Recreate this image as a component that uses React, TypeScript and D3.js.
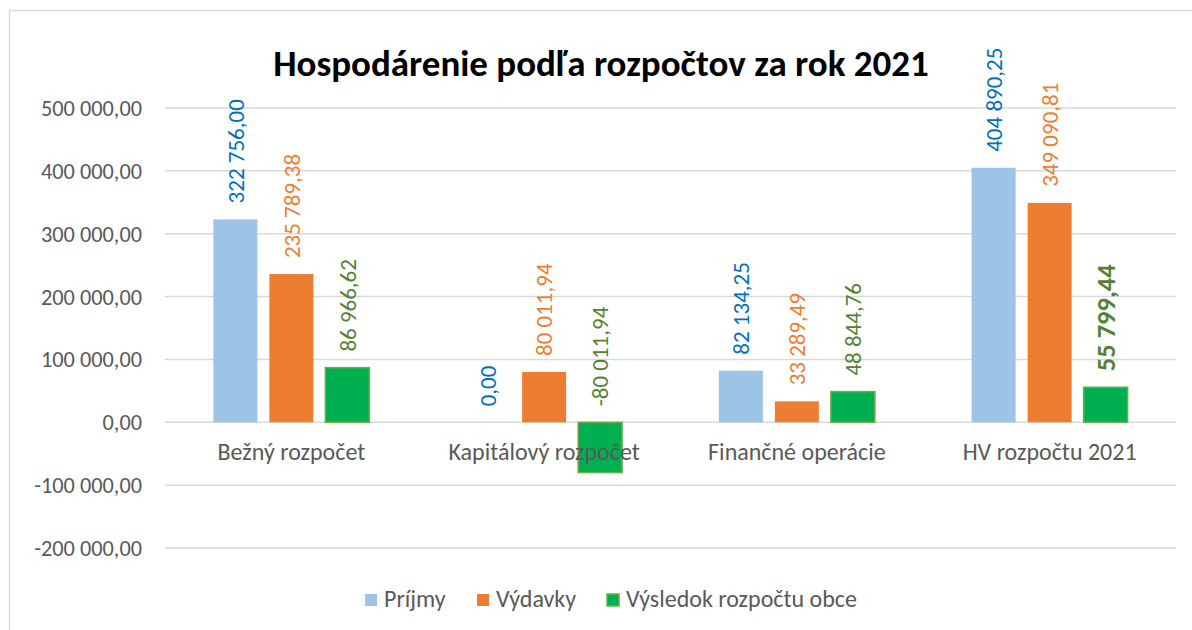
import React from 'react';
import * as d3 from 'd3';

const categories = ['Bežný rozpočet', 'Kapitálový rozpočet', 'Finančné operácie', 'HV rozpočtu 2021'];
const seriesNames = ['Príjmy', 'Výdavky', 'Výsledok rozpočtu obce'];
const prijmy = [322756.0, 0.0, 82134.25, 404890.25];
const vydavky = [235789.38, 80011.94, 33289.49, 349090.81];
const vysledok = [86966.62, -80011.94, 48844.76, 55799.44];
const yTicks = [500000, 400000, 300000, 200000, 100000, 0, -100000, -200000];

const fills = ['#9DC3E6', '#ED7D31', '#00B050'];
const strokes = ['none', 'none', '#70AD47'];
const labelColors = ['#0070C0', '#ED7D31', '#548235'];

const W = 1192;
const H = 630;
const FONT = 'Carlito, Lato, "Open Sans", sans-serif';

const locale = d3.formatLocale({ decimal: ',', thousands: ' ', grouping: [3], currency: ['', ''], minus: '-' });
const fmt = locale.format(',.2f');

export default function App() {
  const values = [prijmy, vydavky, vysledok];

  const y = d3.scaleLinear().domain([-200000, 500000]).range([548, 108]);
  const x0 = d3.scaleBand<string>().domain(categories).range([165, 1176]);
  const x1 = d3.scaleBand<string>().domain(seriesNames).range([0, 156]).paddingInner(12 / 56);
  const groupOffset = (x0.bandwidth() - 156) / 2;

  // legend layout
  const legendItems = [
    { name: seriesNames[0], x: 365 },
    { name: seriesNames[1], x: 477 },
    { name: seriesNames[2], x: 607 },
  ];

  return (
    <svg width={W} height={H} style={{ position: 'absolute', left: 0, top: 0, background: '#fff' }} fontFamily={FONT}>
      <rect x={0} y={0} width={W} height={H} fill="#fff" />
      <rect x={9.5} y={10.5} width={1300} height={800} fill="none" stroke="#d9d9d9" strokeWidth={1.5} />

      <text x={601} y={76} textAnchor="middle" fontSize={37} fontWeight="bold" fill="#000">
        Hospodárenie podľa rozpočtov za rok 2021
      </text>

      {/* gridlines + y labels */}
      {yTicks.map((t) => (
        <g key={t}>
          <line x1={165} x2={1176} y1={y(t)} y2={y(t)} stroke="#d9d9d9" strokeWidth={1.5} />
          <text x={142} y={y(t)} dy="0.36em" textAnchor="end" fontSize={22.3} fill="#595959">
            {fmt(t)}
          </text>
        </g>
      ))}

      {/* bars */}
      {categories.map((c, ci) => (
        <g key={c} transform={`translate(${x0(c)! + groupOffset},0)`}>
          {seriesNames.map((s, si) => {
            const v = values[si][ci];
            const bx = x1(s)!;
            const top = y(Math.max(v, 0));
            const h = Math.abs(y(v) - y(0));
            return (
              <rect
                key={s}
                x={bx}
                y={top}
                width={x1.bandwidth()}
                height={h}
                fill={fills[si]}
                stroke={strokes[si]}
                strokeWidth={1.5}
              />
            );
          })}
        </g>
      ))}

      {/* data labels */}
      {categories.map((c, ci) => (
        <g key={c + '-l'} transform={`translate(${x0(c)! + groupOffset},0)`}>
          {seriesNames.map((s, si) => {
            const v = values[si][ci];
            const cx = x1(s)! + x1.bandwidth() / 2;
            const ly = y(Math.max(v, 0)) - 16;
            const big = ci === 3 && si === 2;
            return (
              <text
                key={s}
                transform={`translate(${cx},${ly}) rotate(-90)`}
                dy="0.36em"
                textAnchor="start"
                fontSize={big ? 26.5 : 23}
                fontWeight={big ? 'bold' : 'normal'}
                fill={labelColors[si]}
              >
                {fmt(v)}
              </text>
            );
          })}
        </g>
      ))}

      {/* category labels */}
      {categories.map((c) => (
        <text key={c + '-c'} x={x0(c)! + x0.bandwidth() / 2} y={460} textAnchor="middle" fontSize={24} fill="#595959">
          {c}
        </text>
      ))}

      {/* legend */}
      {legendItems.map((it, i) => (
        <g key={it.name}>
          <rect
            x={it.x}
            y={594}
            width={12}
            height={12}
            fill={fills[i]}
            stroke={strokes[i]}
            strokeWidth={1.5}
          />
          <text x={it.x + 19} y={607} fontSize={24} fill="#595959">
            {it.name}
          </text>
        </g>
      ))}
    </svg>
  );
}
